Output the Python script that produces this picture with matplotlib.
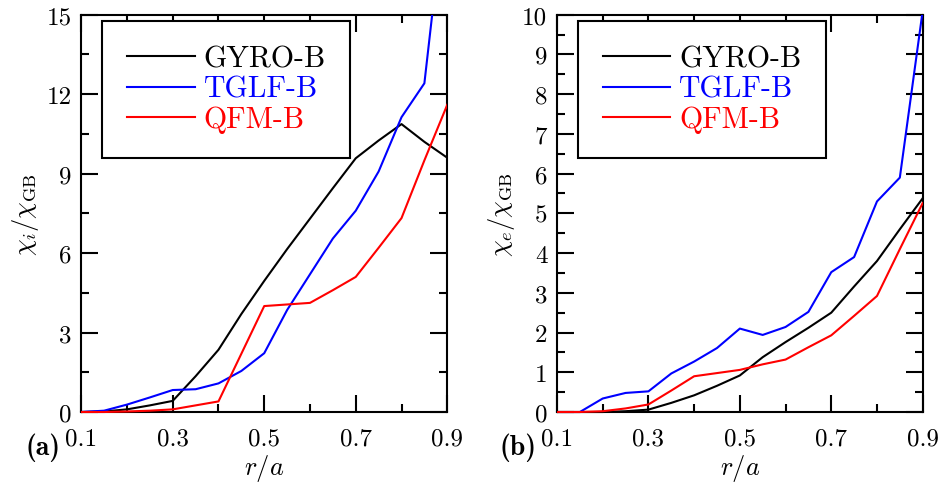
import numpy as np
import matplotlib
matplotlib.use('Agg')
import matplotlib.pyplot as plt
from matplotlib.ticker import MultipleLocator
from matplotlib.patches import Rectangle

# ---------------------------
# data
# ---------------------------
r = [0.10, 0.15, 0.20, 0.25, 0.30, 0.35, 0.40, 0.45, 0.50,
     0.55, 0.60, 0.65, 0.70, 0.75, 0.80, 0.85, 0.90]

# (a) ion diffusivity chi_i / chi_GB
chi_i_gyro = [0.0, 0.02, 0.10, 0.25, 0.42, 1.35, 2.35, 3.70, 4.95,
              6.15, 7.30, 8.45, 9.58, 10.25, 10.87, 10.20, 9.60]
chi_i_tglf = [0.0, 0.05, 0.28, 0.55, 0.83, 0.86, 1.08, 1.55, 2.22,
              3.85, 5.20, 6.55, 7.60, 9.08, 11.13, 12.41, 20.0]
chi_i_qfm = [0.0, 0.0, 0.02, 0.05, 0.10, 0.25, 0.40, 2.20, 4.00,
             4.06, 4.12, 4.60, 5.10, 6.20, 7.32, 9.50, 11.60]

# (b) electron diffusivity chi_e / chi_GB
chi_e_gyro = [0.0, 0.0, 0.0, 0.02, 0.06, 0.23, 0.42, 0.66, 0.92,
              1.38, 1.76, 2.12, 2.50, 3.16, 3.80, 4.60, 5.38]
chi_e_tglf = [0.0, 0.0, 0.34, 0.48, 0.52, 0.97, 1.27, 1.61, 2.10,
              1.94, 2.14, 2.52, 3.52, 3.90, 5.30, 5.90, 10.1]
chi_e_qfm = [0.0, 0.0, 0.02, 0.09, 0.19, 0.54, 0.90, 0.98, 1.06,
             1.20, 1.32, 1.63, 1.93, 2.42, 2.92, 4.10, 5.26]

labels = ['GYRO-B', 'TGLF-B', 'QFM-B']
colors = ['black', 'blue', 'red']
x_ticks = [0.1, 0.3, 0.5, 0.7, 0.9]

# ---------------------------
# style
# ---------------------------
plt.rcParams['font.family'] = 'cmr10'
plt.rcParams['mathtext.fontset'] = 'cm'
plt.rcParams['axes.unicode_minus'] = False
plt.rcParams['axes.linewidth'] = 1.5

fig = plt.figure(figsize=(9.42, 4.89), dpi=100)
ax_a = fig.add_axes([0.0862, 0.1554, 0.3886, 0.8125])
ax_b = fig.add_axes([0.5913, 0.1554, 0.3882, 0.8125])

panels = [
    (ax_a, [chi_i_gyro, chi_i_tglf, chi_i_qfm], 15, 3, 1.5, r'$\chi_i/\chi_{\rm GB}$', '(a)', 0.027),
    (ax_b, [chi_e_gyro, chi_e_tglf, chi_e_qfm], 10, 1, 0.5, r'$\chi_e/\chi_{\rm GB}$', '(b)', 0.530),
]

for ax, series, ymax, ymaj, ymin, ylab, tag, tag_x in panels:
    # let the curves sit on top of the bottom spine, but still clip at the top
    clip = Rectangle((0, -0.02), 1, 1.02, transform=ax.transAxes, visible=False)
    ax.add_patch(clip)
    for vals, lab, c in zip(series, labels, colors):
        ln, = ax.plot(r, vals, color=c, lw=1.5, label=lab, zorder=3)
        ln.set_clip_path(clip)
    ax.set_xlim(0.1, 0.9)
    ax.set_ylim(0, ymax)
    ax.set_xticks(x_ticks)
    ax.set_xticklabels([f'{v:.1f}' for v in x_ticks])
    ax.xaxis.set_minor_locator(MultipleLocator(0.1))
    ax.yaxis.set_major_locator(MultipleLocator(ymaj))
    ax.yaxis.set_minor_locator(MultipleLocator(ymin))
    ax.tick_params(which='both', direction='in', top=True, right=True, width=1.5)
    ax.tick_params(which='major', length=12)
    ax.tick_params(which='minor', length=6)
    ax.tick_params(axis='x', which='major', pad=11, labelsize=18)
    ax.tick_params(axis='y', which='major', pad=7, labelsize=18)
    ax.set_xlabel(r'$r/a$', fontsize=19, labelpad=2)
    ax.set_ylabel(ylab, fontsize=19, labelpad=4)
    leg = ax.legend(loc='upper left', bbox_to_anchor=(0.058, 0.985), fontsize=21.5,
                    fancybox=False, framealpha=1, edgecolor='black',
                    handlelength=2.27, handletextpad=0.3, borderpad=0.82,
                    labelspacing=0.1, borderaxespad=0)
    leg.get_frame().set_linewidth(1.5)
    leg.set_zorder(5)
    for txt, c in zip(leg.get_texts(), colors):
        txt.set_color(c)
    fig.text(tag_x, 0.07, tag, fontsize=20, family='cmb10')

fig.savefig('out.png', dpi=100)
